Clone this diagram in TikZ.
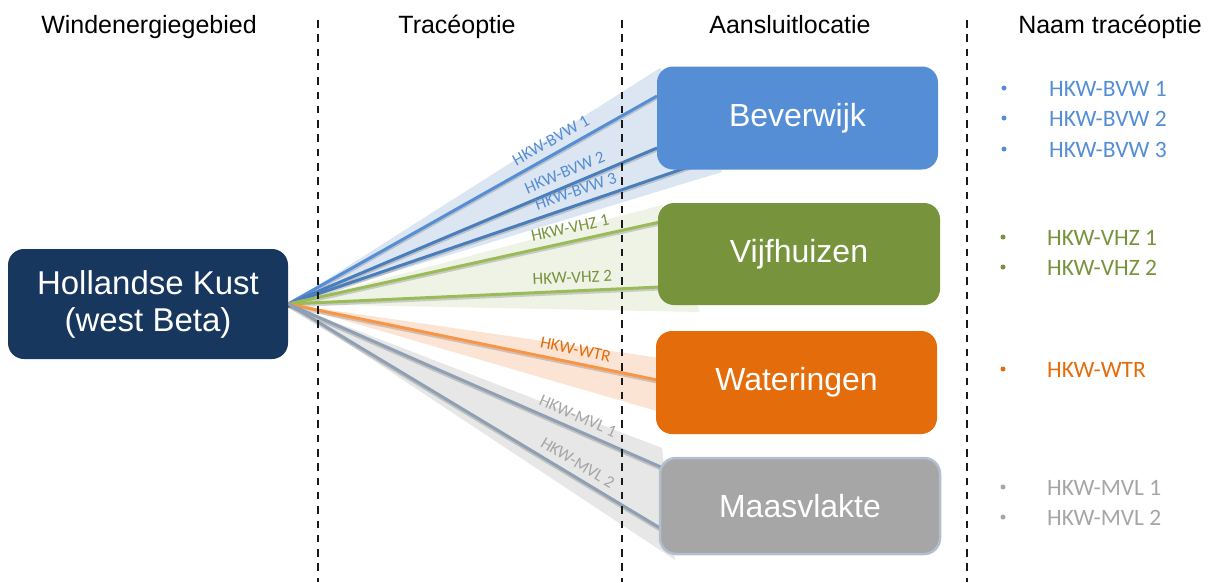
\documentclass[tikz,border=0pt]{standalone}
\usepackage{fontspec}
\setmainfont{Liberation Sans}
\newfontfamily\carlito{Carlito}
\usetikzlibrary{backgrounds}
\definecolor{navy}{HTML}{17375E}
\definecolor{bevc}{HTML}{558ED5}
\definecolor{bevl}{HTML}{4A7EBB}
\definecolor{vhzc}{HTML}{77933C}
\definecolor{vhzl}{HTML}{9BBB59}
\definecolor{wtrc}{HTML}{E46C0A}
\definecolor{wtrl}{HTML}{F79646}
\definecolor{mvlc}{HTML}{A6A6A6}
\definecolor{mvll}{HTML}{8FA0B5}
\definecolor{mvlb}{HTML}{B3BFCD}
\definecolor{bevs}{HTML}{DCE6F2}
\definecolor{vhzs}{HTML}{EFF3E6}
\definecolor{wtrs}{HTML}{FCE4D4}
\definecolor{mvls}{HTML}{E7E7E7}
\begin{document}
\begin{tikzpicture}[x=1pt,y=-1pt,
  hdr/.style={font=\fontsize{25}{30}\selectfont, anchor=base, inner sep=0pt},
  locbox/.style={rounded corners=16pt, text=white, font=\fontsize{32}{36}\selectfont,
    inner sep=0pt, minimum width=281pt, minimum height=103pt},
  conn/.style={line width=3pt},
  shd/.style={line width=3pt, draw=black, opacity=0.16},
  lbl/.style={font=\carlito\fontsize{17}{20}\selectfont, sloped, above=4pt, inner sep=2.5pt, pos=#1},
  sep/.style={line width=1.8pt, dash pattern=on 7.5pt off 6.8pt, black!90},
  item/.style={font=\carlito\fontsize{23.5}{28}\selectfont, anchor=base west, inner sep=0pt},
  bul/.style={circle, inner sep=0pt, minimum size=5pt}
]
\useasboundingbox (0,0) rectangle (1208,582);

% headers
\node[hdr] (h1) at (149,33) {Windenergiegebied};
\node[hdr] (h2) at (457,33) {Tracéoptie};
\node[hdr] (h3) at (790,33) {Aansluitlocatie};
\node[hdr] (h4) at (1110,33) {Naam tracéoptie};

% boxes
\node[locbox, fill=navy, minimum width=280pt, minimum height=110pt, align=center,
      font=\fontsize{33}{37}\selectfont] (hk) at (148,304) {Hollandse Kust\\(west Beta)};
\node[locbox, fill=bevc] (bev) at (797.5,118) {Beverwijk};
\node[locbox, fill=vhzc, minimum width=282pt, minimum height=102pt] (vhz) at (799,254) {Vijfhuizen};
\node[locbox, fill=wtrc] (wtr) at (796.5,382.5) {Wateringen};
\node[locbox, fill=mvlc, draw=mvlb, line width=2.5pt, minimum width=280pt, minimum height=96pt] (mvl) at (800,506) {Maasvlakte};

% line end points
\coordinate (b1) at (657,96);
\coordinate (b2) at (657,148);
\coordinate (b3) at (700,163);
\coordinate (v1) at (660,222);
\coordinate (v2) at (660,287);
\coordinate (w1) at (657,380);
\coordinate (m1) at (670,471);
\coordinate (m2) at (670,534);

% dashed separators
\coordinate (d1t) at (318,20); \coordinate (d1b) at (318,582);
\coordinate (d2t) at (622,20); \coordinate (d2b) at (622,582);
\coordinate (d3t) at (967,20); \coordinate (d3b) at (967,582);

\begin{scope}[on background layer]
  \fill[bevs] (hk.east) -- (660,68) -- (722,172) -- cycle;
  \fill[vhzs] (hk.east) -- (662,205) -- (700,312) -- cycle;
  \fill[wtrs] (hk.east) -- (660,358) -- (660,412) -- cycle;
  \fill[mvls] (hk.east) -- (662,448) -- (675,560) -- cycle;

  \begin{scope}[transform canvas={yshift=-2pt}]
    \foreach \e in {b1,b2,b3,v1,v2,w1,m1,m2} \draw[shd] (hk.east) -- (\e);
  \end{scope}

  \draw[conn, bevc] (hk.east) -- node[lbl=0.73, text=bevc] {HKW-BVW 1} (b1);
  \draw[conn, bevl] (hk.east) -- node[lbl=0.764, text=bevc] {HKW-BVW 2} (b2);
  \draw[conn, bevl] (hk.east) -- node[lbl=0.709, text=bevc] {HKW-BVW 3} (b3);
  \draw[conn, vhzl] (hk.east) -- node[lbl=0.766, text=vhzc] {HKW-VHZ 1} (v1);
  \draw[conn, vhzl] (hk.east) -- node[lbl=0.766, text=vhzc] {HKW-VHZ 2} (v2);
  \draw[conn, wtrl] (hk.east) -- node[lbl=0.772, text=wtrc] {HKW-WTR} (w1);
  \draw[conn, mvll] (hk.east) -- node[lbl=0.745, text=mvlc] {HKW-MVL 1} (m1);
  \draw[conn, mvll] (hk.east) -- node[lbl=0.74, text=mvlc] {HKW-MVL 2} (m2);

  \draw[sep] (d1t) -- (d1b);
  \draw[sep] (d2t) -- (d2b);
  \draw[sep] (d3t) -- (d3b);
\end{scope}

% list of route names
\node[item, text=bevc] (n1) at (1049,96) {HKW-BVW 1};
\node[item, text=bevc] (n2) at (1049,126) {HKW-BVW 2};
\node[item, text=bevc] (n3) at (1049,157) {HKW-BVW 3};
\node[item, text=vhzc] (n4) at (1047,245) {HKW-VHZ 1};
\node[item, text=vhzc] (n5) at (1047,275) {HKW-VHZ 2};
\node[item, text=wtrc] (n6) at (1047,377) {HKW-WTR};
\node[item, text=mvlc] (n7) at (1047,495) {HKW-MVL 1};
\node[item, text=mvlc] (n8) at (1047,525) {HKW-MVL 2};

\node[bul, fill=bevc] (p1) at (1004,88) {};
\node[bul, fill=bevc] (p2) at (1004,118) {};
\node[bul, fill=bevc] (p3) at (1004,149) {};
\node[bul, fill=vhzc] (p4) at (1003,237) {};
\node[bul, fill=vhzc] (p5) at (1003,267) {};
\node[bul, fill=wtrc] (p6) at (1003,369) {};
\node[bul, fill=mvlc] (p7) at (1003,487) {};
\node[bul, fill=mvlc] (p8) at (1003,517) {};
\end{tikzpicture}
\end{document}
